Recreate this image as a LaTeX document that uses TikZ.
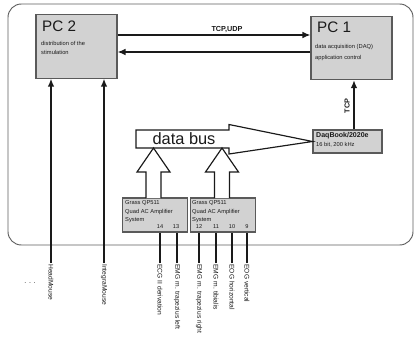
\documentclass[tikz,border=0pt]{standalone}
\usepackage{fontspec}
\setmainfont{Liberation Sans}
\usepackage{tikz}
\usetikzlibrary{arrows.meta,positioning,calc}
\usepackage{xcolor}
\definecolor{ink}{HTML}{1A1A1A}
\definecolor{boxfill}{HTML}{D2D2D2}
\definecolor{boxline}{HTML}{5A5A5A}
\definecolor{frame}{HTML}{5E5E5E}

\begin{document}
\begin{tikzpicture}[
  x=0.03cm, y=-0.03cm,
  every node/.style={font=\fontsize{5}{6}\selectfont, text=ink},
  pcbox/.style={draw=boxline, fill=boxfill, line width=0.9pt, minimum width=2.43cm, minimum height=1.9cm, inner sep=0pt},
  daqbox/.style={draw=boxline, fill=boxfill, line width=0.9pt, minimum width=2.07cm, minimum height=0.69cm, inner sep=0pt},
  ampbox/.style={draw=boxline, fill=boxfill, line width=0.9pt, minimum width=1.95cm, minimum height=1.02cm, inner sep=0pt},
  title/.style={font=\fontsize{13}{14}\selectfont, anchor=north west, inner sep=0pt},
  small/.style={font=\fontsize{4.9}{7.5}\selectfont, anchor=north west, align=left, inner sep=0pt},
  chan/.style={font=\fontsize{4.8}{5}\selectfont, inner sep=0pt},
  sig/.style={font=\fontsize{5.7}{6}\selectfont, rotate=-90, anchor=west, inner sep=1pt},
  arrow/.style={-{Latex[length=2.4mm,width=2mm]}, line width=1.2pt, color=ink},
  wire/.style={line width=1.2pt, color=ink},
  block/.style={draw=ink, fill=white, line width=1pt, line join=miter},
  proto/.style={font=\bfseries\fontsize{6.2}{7}\selectfont}
]
\useasboundingbox (0,0) rectangle (416,339);

% --- outer frame
\draw[frame, line width=0.8pt, rounded corners=4mm] (8,4) rectangle (413,245);

% --- computers
\node[pcbox] (pc2) at (76.5,46.5) {};
\node[title] at (42,21) {PC 2};
\node[small] at (41,41) {distribution of the\\stimulation};

\node[pcbox] (pc1) at (351.5,48) {};
\node[title] at (317,22) {PC 1};
\node[small] at (315,44) {data acquisition (DAQ)\\[2pt]application control};

\draw[arrow] ([yshift=3.45mm]pc2.east) -- ([yshift=3.45mm]pc2.east -| pc1.west);
\draw[arrow] ([yshift=-1.2mm]pc1.west) -- ([yshift=-1.2mm]pc1.west -| pc2.east);
\node[proto] at (227,30) {TCP,UDP};

% --- acquisition
\node[daqbox] (daq) at (347.5,141.5) {};
\node[small, font=\bfseries\fontsize{6}{7}\selectfont] at (316,132) {DaqBook/2020e};
\node[small] at (316,142) {16 bit, 200 kHz};
\draw[arrow] ([xshift=1.95mm]daq.north) -- ([xshift=1.95mm]daq.north |- pc1.south);
\node[proto, rotate=90] at (347,106) {TCP};

% --- data bus
\draw[block] (136,130) -- (229,130) -- (229,124.5) -- (daq.west) -- (229,154) -- (229,148) -- (136,148) -- cycle;
\node[font=\fontsize{14}{15}\selectfont] (bus) at (184,139) {data bus};

% --- amplifiers
\node[ampbox] (ampA) at (155,215) {};
\node[small] at (125,200) {Grass QP511\\Quad AC Amplifier\\System};
\node[chan] at (160,227) {14};
\node[chan] at (176,227) {13};

\node[ampbox] (ampB) at (223,215) {};
\node[small] at (192,200) {Grass QP511\\Quad AC Amplifier\\System};
\node[chan] at (199,227) {12};
\node[chan] at (216,227) {11};
\node[chan] at (232,227) {10};
\node[chan] at (247,227) {9};

\draw[block] (146,198) -- (146,172) -- (137,172) -- (153.5,148) -- (170,172) -- (161,172) -- (161,198);
\draw[block] (214.5,198) -- (214.5,172) -- (205.5,172) -- (222,148) -- (238.5,172) -- (229.5,172) -- (229.5,198);

% --- signals
\node[sig] (head) at (51,263) {HeadMouse};
\node[sig] (integ) at (104,263) {IntegraMouse};
\draw[arrow] (head.west) -- (head.west |- pc2.south);
\draw[arrow] (integ.west) -- (integ.west |- pc2.south);
\node[font=\fontsize{6}{7}\selectfont] (more) at (30,283) {. . .};

\node[sig] (ecg) at (160,263) {ECG II derivation};
\node[sig] (trl) at (177,263) {EMG m. trapezius left};
\node[sig] (trr) at (199,263) {EMG m. trapezius right};
\node[sig] (tib) at (216,263) {EMG m. tibialis};
\node[sig] (eoh) at (232,263) {EOG horizontal};
\node[sig] (eov) at (247,263) {EOG vertical};
\draw[wire] (ecg.west) -- (ecg.west |- ampA.south);
\draw[wire] (trl.west) -- (trl.west |- ampA.south);
\draw[wire] (trr.west) -- (trr.west |- ampB.south);
\draw[wire] (tib.west) -- (tib.west |- ampB.south);
\draw[wire] (eoh.west) -- (eoh.west |- ampB.south);
\draw[wire] (eov.west) -- (eov.west |- ampB.south);

\end{tikzpicture}
\end{document}
